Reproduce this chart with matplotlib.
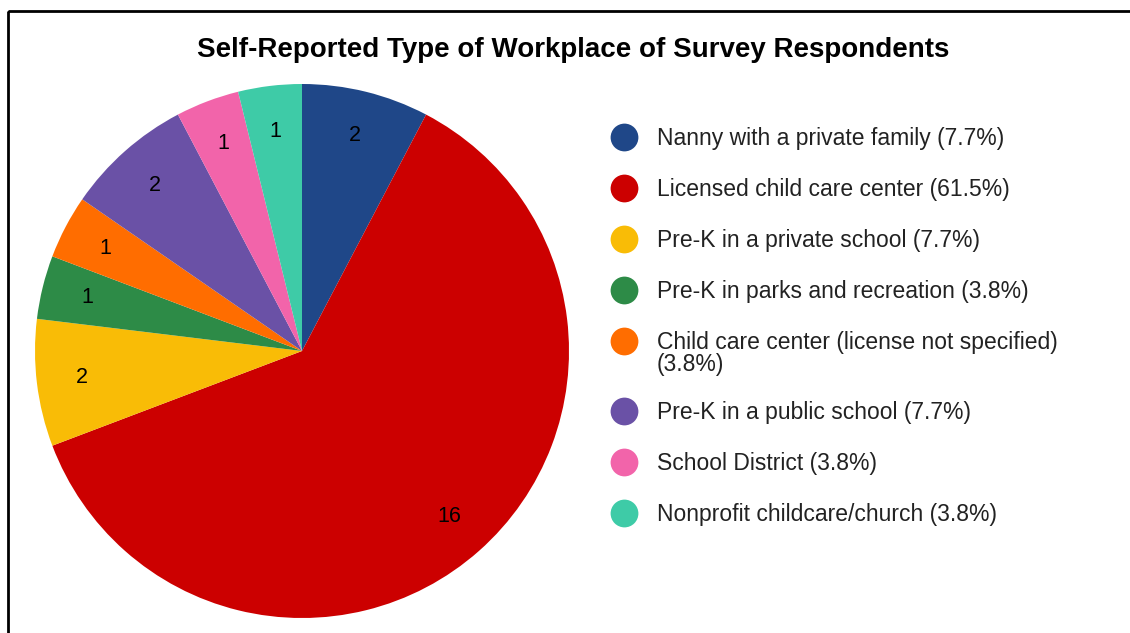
import matplotlib.pyplot as plt
from matplotlib.patches import Rectangle

plt.rcParams['font.family'] = ['Liberation Sans', 'DejaVu Sans']

# survey answers, in clockwise order starting at 12 o'clock
workplaces = [
    "Nanny with a private family",
    "Licensed child care center",
    "Pre-K in a private school",
    "Pre-K in parks and recreation",
    "Child care center (license not specified)",
    "Pre-K in a public school",
    "School District",
    "Nonprofit childcare/church",
]
counts = [2, 16, 2, 1, 1, 2, 1, 1]
colors = ["#1f4788", "#cc0000", "#f9bc06", "#2d8b47",
          "#ff6d00", "#6a51a6", "#f264aa", "#3ecba7"]

W, H = 1130, 633
fig = plt.figure(figsize=(W / 100, H / 100), dpi=100)

# overlay axes in pixel units for the frame, title and legend
lax = fig.add_axes([0, 0, 1, 1])
lax.set_xlim(0, W)
lax.set_ylim(H, 0)
lax.axis("off")
lax.add_patch(Rectangle((7.5, 10.5), W + 20, H + 20, fill=False,
                        edgecolor="black", linewidth=2))

cx, cy, r = 302, 351, 267
ax = fig.add_axes([(cx - r) / W, (H - cy - r) / H, 2 * r / W, 2 * r / H])
wedges, texts = ax.pie(counts, colors=colors, startangle=90, counterclock=False,
                       labels=[str(c) for c in counts], labeldistance=0.83,
                       textprops={"fontsize": 15.5, "color": "black"},
                       wedgeprops={"linewidth": 0})
for t in texts:
    t.set_ha("center")
    t.set_va("center")
ax.set_xlim(-1, 1)
ax.set_ylim(-1, 1)
ax.set_aspect("equal")
ax.axis("off")

lax.text(573, 50, "Self-Reported Type of Workplace of Survey Respondents",
         ha="center", va="center", fontsize=20, fontweight="bold")

# legend: dot + label, long labels wrap onto a second line
total = sum(counts)
y = 137
for name, c, col in zip(workplaces, counts, colors):
    pct = f"({c / total * 100:.1f}%)"
    lab = f"{name} {pct}" if len(name) < 40 else f"{name}\n{pct}"
    lax.scatter([624], [y], s=400, color=col, linewidths=0)
    lax.text(657, y - 10, lab, ha="left", va="top", fontsize=16.5,
             color="#222222", linespacing=0.96)
    y += 51 + 19 * lab.count("\n")

fig.savefig("out.png", dpi=100)
